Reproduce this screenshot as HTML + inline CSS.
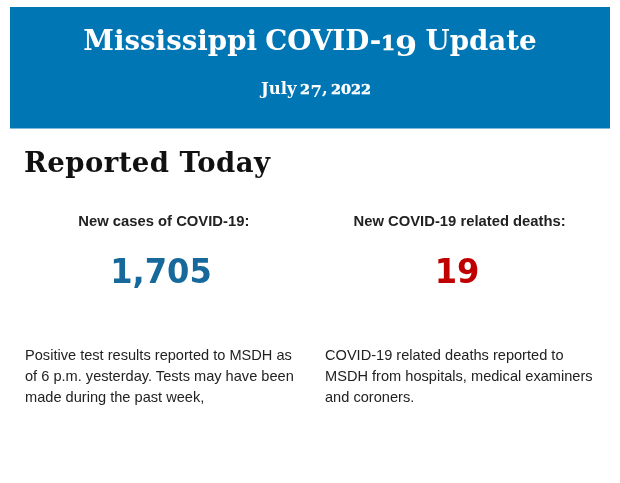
<!DOCTYPE html>
<html>
<head>
<meta charset="utf-8">
<title>Mississippi COVID-19 Update</title>
<style>
html,body{margin:0;padding:0;background:#fff;}
body{width:620px;height:483px;position:relative;overflow:hidden;font-family:"Liberation Sans",Arial,sans-serif;color:#111;}
.banner{position:absolute;left:10px;top:7px;width:600px;height:121px;border-bottom:1px solid #7fbad9;background:#0076b4;color:#fff;text-align:center;font-family:"DejaVu Serif","Liberation Serif",serif;font-weight:bold;}
.banner h1{margin:0;position:absolute;left:0;right:0;top:15px;font-size:27.7px;line-height:38px;word-spacing:-1.5px;font-weight:bold;white-space:nowrap;}
.banner h1 .d{display:inline-block;width:.8em;transform:scaleX(1.15);transform-origin:0 50%;text-align:left;}
.banner .date{position:absolute;left:251px;word-spacing:-2px;top:69.5px;font-size:16.5px;line-height:24px;white-space:nowrap;text-align:left;}
.date .x{font-size:.78em;display:inline-block;transform:scaleX(1.116);transform-origin:0 50%;width:.777em;}
.date .x4{width:3.108em;}
/* old-style figure imitation */
.x{font-size:.72em;}
.x{-webkit-text-stroke:.4px #fff;}
h1 .x{-webkit-text-stroke:.7px #fff;}
.d{position:relative;top:.21em;}
h2{margin:0;position:absolute;left:24px;top:143px;letter-spacing:.45px;font-family:"DejaVu Serif","Liberation Serif",serif;font-weight:bold;font-size:27.5px;line-height:38px;color:#111;white-space:nowrap;}
.lab{position:absolute;top:211.5px;font-weight:bold;font-size:14.8px;line-height:18px;text-align:center;white-space:nowrap;color:#222;}
.num{position:absolute;top:249.5px;font-family:"DejaVu Sans",Verdana,sans-serif;font-weight:bold;font-size:33.3px;line-height:44px;text-align:center;white-space:nowrap;transform:scaleX(.965);transform-origin:50% 50%;}
.txt{position:absolute;top:344.7px;font-size:14.6px;line-height:21px;color:#222;white-space:nowrap;}
</style>
</head>
<body>
<div class="banner">
  <h1>Mississippi COVID-<span class="x">1</span><span class="d">9</span> Update</h1>
  <div class="date">July <span class="x">2</span><span class="d">7</span>, <span class="x x4">2022</span></div>
</div>
<h2>Reported Today</h2>
<div class="lab" style="left:13.8px;width:300px;">New cases of COVID-19:</div>
<div class="lab" style="left:309.6px;width:300px;">New COVID-19 related deaths:</div>
<div class="num" style="left:11.3px;width:300px;color:#17699c;">1,705</div>
<div class="num" style="left:307px;width:300px;color:#c00000;">19</div>
<div class="txt" style="left:25px;">Positive test results reported to MSDH as<br>of 6 p.m. yesterday. Tests may have been<br>made during the past week,</div>
<div class="txt" style="left:325px;">COVID-19 related deaths reported to<br>MSDH from hospitals, medical examiners<br>and coroners.</div>
</body>
</html>
